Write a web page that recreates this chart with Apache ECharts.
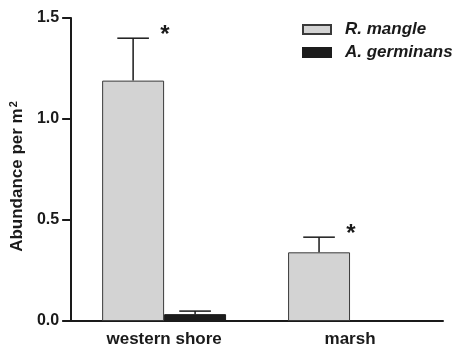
<!DOCTYPE html>
<html>
<head>
<meta charset="utf-8">
<script src="https://cdn.jsdelivr.net/npm/echarts@6/dist/echarts.min.js"></script>
<style>
  html, body { margin: 0; padding: 0; background: #fff; }
  #chart { width: 459px; height: 348px; }
</style>
</head>
<body>
<div id="chart"></div>
<script>
// Sites and species
const sites = ['western shore', 'marsh'];
const speciesNames = ['R. mangle', 'A. germinans'];

// Mean abundance per m² and upper error (mean + SE)
const mangleMean = [1.19, 0.34];
const mangleUpper = [1.40, 0.415];
const germinansMean = [0.034, 0];
const germinansUpper = [0.049, null];

// Significance markers
const mangleMarks = ['*', '*'];
const germinansMarks = ['', ''];

// Y axis ticks
const yTicks = [0, 0.5, 1.0, 1.5];

const FONT = 'Liberation Sans, Arial, sans-serif';
const INK = '#1a1a1a';
const fills = ['#d3d3d3', '#1c1c1c'];
const borders = ['#3a3a3a', '#1c1c1c'];

function errorData(means, uppers, marks) {
  return means.map((m, i) => [i, m, uppers[i], marks[i]]);
}

function makeErrorRenderer(side) {
  return function (params, api) {
    const upper = api.value(2);
    if (upper == null || isNaN(upper)) return;
    const cat = api.value(0);
    const base = api.coord([cat, api.value(1)]);
    const top = api.coord([cat, upper]);
    const band = api.size([1, 0])[0];
    const x = base[0] + side * band / 6;
    const half = band * 0.085;
    const style = { stroke: INK, lineWidth: 1.5 };
    const children = [
      { type: 'line', shape: { x1: x, y1: base[1], x2: x, y2: top[1] }, style: style },
      { type: 'line', shape: { x1: x - half, y1: top[1], x2: x + half, y2: top[1] }, style: style }
    ];
    const mark = api.value(3);
    if (mark) {
      children.push({
        type: 'text',
        style: {
          text: mark, x: x + half + 16, y: top[1] - 3,
          fill: INK, font: 'bold 24px ' + FONT,
          textAlign: 'center', textVerticalAlign: 'middle'
        }
      });
    }
    return { type: 'group', children: children };
  };
}

const chart = echarts.init(document.getElementById('chart'), null, { renderer: 'canvas' });

chart.setOption({
  animation: false,
  backgroundColor: '#ffffff',
  grid: { left: 68, right: 16, top: 18, bottom: 25, containLabel: false },
  legend: {
    data: speciesNames,
    orient: 'vertical',
    left: 297,
    top: 16,
    itemWidth: 28,
    itemHeight: 9,
    itemGap: 6,
    icon: 'rect',
    textStyle: {
      fontFamily: FONT, fontSize: 17, fontWeight: 'bold', fontStyle: 'italic',
      color: INK, padding: [0, 0, 0, 9]
    }
  },
  xAxis: {
    type: 'category',
    data: sites,
    axisLine: { lineStyle: { color: INK, width: 2 } },
    axisTick: { alignWithLabel: true, length: 7, lineStyle: { color: INK, width: 2 } },
    axisLabel: { fontFamily: FONT, fontSize: 17, fontWeight: 'bold', color: INK, margin: 10 }
  },
  yAxis: {
    type: 'value',
    min: yTicks[0],
    max: yTicks[yTicks.length - 1],
    interval: 0.5,
    splitLine: { show: false },
    axisLine: { show: true, lineStyle: { color: INK, width: 2 } },
    axisTick: { show: true, length: 9, lineStyle: { color: INK, width: 2 } },
    axisLabel: {
      fontFamily: FONT, fontSize: 16, fontWeight: 'bold', color: INK, margin: 12,
      formatter: v => v.toFixed(1)
    },
    name: '{a|Abundance per m}{s|2}',
    nameLocation: 'middle',
    nameGap: 44,
    nameTextStyle: {
      rich: {
        a: { fontFamily: FONT, fontSize: 17, fontWeight: 'bold', color: INK },
        s: { fontFamily: FONT, fontSize: 11, fontWeight: 'bold', color: INK, verticalAlign: 'top', padding: [0, 14, 8, 1] }
      }
    }
  },
  series: [
    {
      name: speciesNames[0],
      type: 'bar',
      data: mangleMean,
      barWidth: '33.33%',
      barGap: '0%',
      itemStyle: { color: fills[0], borderColor: borders[0], borderWidth: 1 }
    },
    {
      name: speciesNames[1],
      type: 'bar',
      data: germinansMean,
      barWidth: '33.33%',
      barGap: '0%',
      itemStyle: { color: fills[1], borderColor: borders[1], borderWidth: 1 }
    },
    {
      type: 'custom',
      data: errorData(mangleMean, mangleUpper, mangleMarks),
      encode: { x: 0, y: 2 },
      renderItem: makeErrorRenderer(-1),
      z: 3
    },
    {
      type: 'custom',
      data: errorData(germinansMean, germinansUpper, germinansMarks),
      encode: { x: 0, y: 2 },
      renderItem: makeErrorRenderer(1),
      z: 3
    }
  ]
});
</script>
</body>
</html>
